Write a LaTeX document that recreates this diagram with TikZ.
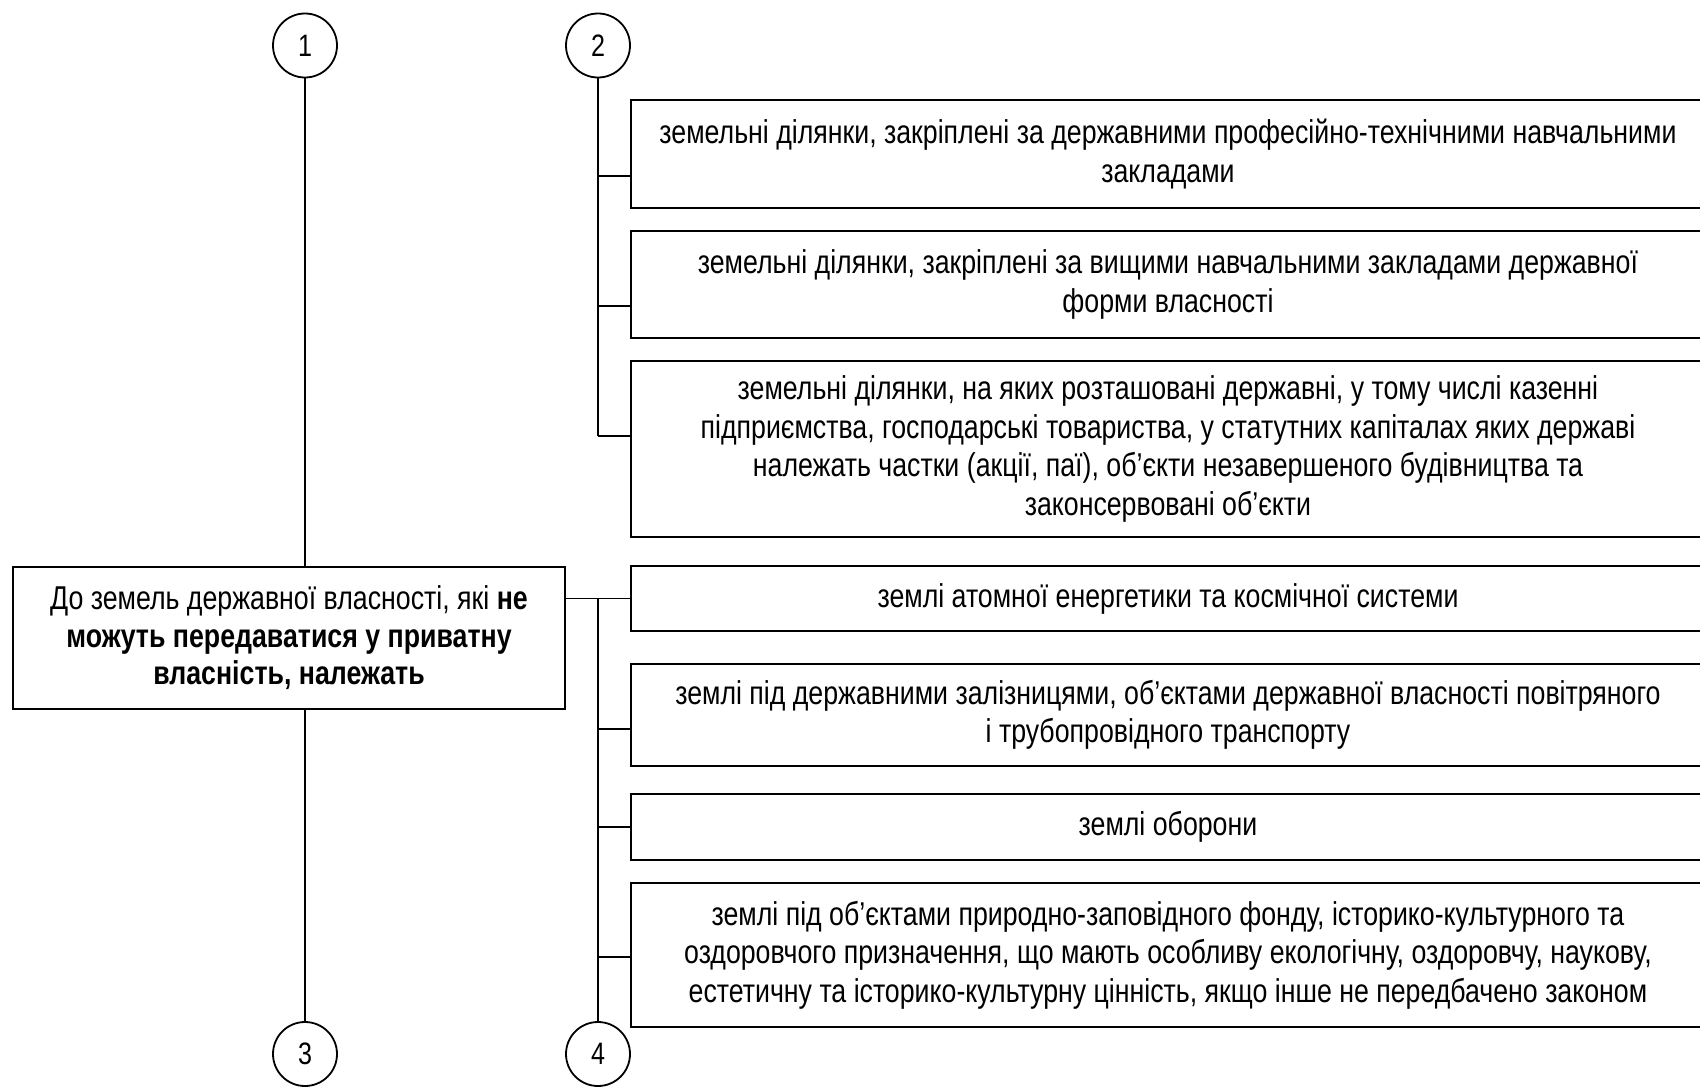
\documentclass[tikz,border=0pt]{standalone}
\usepackage{fontspec}
\setmainfont{Liberation Sans}[FakeStretch=0.81]
\begin{document}
\begin{tikzpicture}[x=1pt,y=-1pt,
  lw/.style={line width=1.8pt},
  box/.style={draw, lw, align=center, inner sep=0pt, font=\fontsize{33}{37.5}\selectfont},
  rbox/.style={box, minimum width=1074pt, font=\fontsize{33}{38.5}\selectfont, execute at begin node={\vspace*{5pt}}},
  num/.style={draw, lw, circle, minimum size=64pt, inner sep=0pt, font=\fontsize{31}{36}\selectfont},
  conn/.style={lw}]
\useasboundingbox (0,0) rectangle (1700,1089);
\clip (0,0) rectangle (1700,1089);
\fill[white] (0,0) rectangle (1700,1089);

\node[num] (c1) at (305,45.5) {1};
\node[num] (c2) at (598,45.5) {2};
\node[num] (c3) at (305,1054) {3};
\node[num] (c4) at (598,1054) {4};

\node[box, minimum width=552pt, minimum height=142pt] (main) at (289,638)
 {До земель державної власності, які \textbf{не}\\ \textbf{можуть передаватися у приватну}\\ \textbf{власність, належать}};

\node[rbox, minimum height=108pt] (A) at (1168,154)
 {земельні ділянки, закріплені за державними професійно-технічними навчальними\\ закладами};
\node[rbox, minimum height=107pt] (B) at (1168,284.5)
 {земельні ділянки, закріплені за вищими навчальними закладами державної\\ форми власності};
\node[rbox, minimum height=176pt] (C) at (1168,449)
 {земельні ділянки, на яких розташовані державні, у тому числі казенні\\ підприємства, господарські товариства, у статутних капіталах яких державі\\ належать частки (акції, паї), об’єкти незавершеного будівництва та\\ законсервовані об’єкти};
\node[box, minimum width=1074pt, minimum height=65pt] (D) at (1168,598.5)
 {землі атомної енергетики та космічної системи};
\node[rbox, minimum height=102pt] (E) at (1168,715)
 {землі під державними залізницями, об’єктами державної власності повітряного\\ і трубопровідного транспорту};
\node[rbox, minimum height=66pt] (F) at (1168,827)
 {землі оборони};
\node[rbox, minimum height=144pt] (G) at (1168,955)
 {землі під об’єктами природно-заповідного фонду, історико-культурного та\\ оздоровчого призначення, що мають особливу екологічну, оздоровчу, наукову,\\ естетичну та історико-культурну цінність, якщо інше не передбачено законом};

\coordinate (jA) at (598,176);
\coordinate (jB) at (598,306);
\coordinate (jC) at (598,436);
\coordinate (jD) at (598,598.5);
\coordinate (jE) at (598,729);
\coordinate (jF) at (598,827);
\coordinate (jG) at (598,957);

% column 1
\draw[conn] (c1) -- (c1 |- main.north);
\draw[conn] (c3 |- main.south) -- (c3);
% column 2
\draw[conn] (c2) -- (jC);
\draw[conn] (jA) -- (jA -| A.west);
\draw[conn] (jB) -- (jB -| B.west);
\draw[conn] (jC) -- (jC -| C.west);
% column 4
\draw[conn] (main.east |- D.west) -- (D.west);
\draw[conn] (jD) -- (c4);
\draw[conn] (jE) -- (jE -| E.west);
\draw[conn] (jF) -- (jF -| F.west);
\draw[conn] (jG) -- (jG -| G.west);
\end{tikzpicture}
\end{document}
